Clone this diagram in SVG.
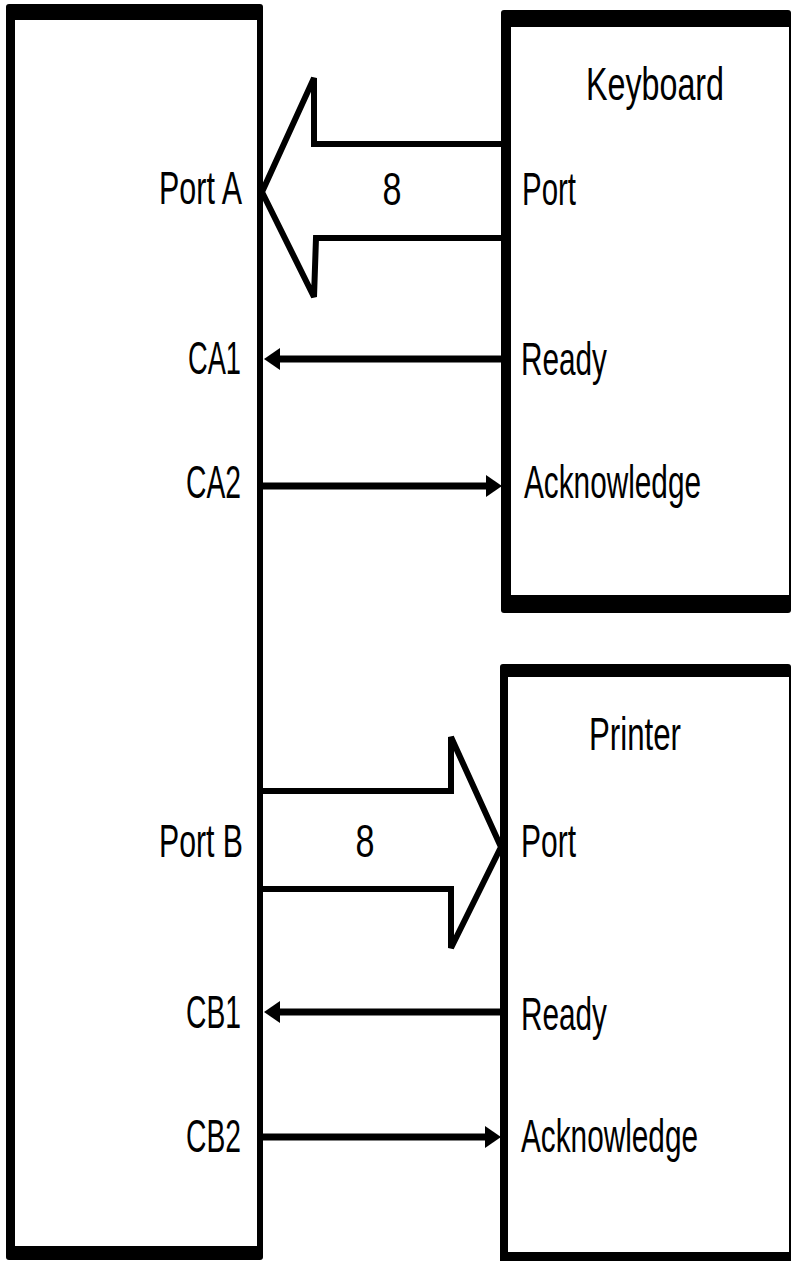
<svg xmlns="http://www.w3.org/2000/svg" width="793" height="1261" viewBox="0 0 793 1261">
<style>
.frame{fill:#000}
.inner{fill:#fff}
.lbl{font-family:"Liberation Sans",Arial,sans-serif;font-size:46px;fill:#000}
.bus{fill:none;stroke:#000;stroke-width:6;stroke-linejoin:miter}
.sig{fill:none;stroke:#000;stroke-width:7}
</style>
<defs>
<marker id="ah" markerUnits="userSpaceOnUse" markerWidth="18" markerHeight="24" refX="2" refY="11" orient="auto">
<path d="M0,0 L16,11 L0,22 z" fill="#000"/>
</marker>
</defs>
<rect width="793" height="1261" fill="#fff"/>

<g id="pia">
<rect class="frame" x="6" y="4" width="257" height="1256" rx="3"/>
<rect class="inner" x="15" y="20" width="242" height="1226"/>
<text class="lbl" x="159" y="204" textLength="83" lengthAdjust="spacingAndGlyphs">Port A</text>
<text class="lbl" x="188" y="374" textLength="53" lengthAdjust="spacingAndGlyphs">CA1</text>
<text class="lbl" x="186" y="498" textLength="55" lengthAdjust="spacingAndGlyphs">CA2</text>
<text class="lbl" x="159" y="857" textLength="84" lengthAdjust="spacingAndGlyphs">Port B</text>
<text class="lbl" x="186" y="1028" textLength="55" lengthAdjust="spacingAndGlyphs">CB1</text>
<text class="lbl" x="186" y="1152" textLength="55" lengthAdjust="spacingAndGlyphs">CB2</text>
</g>

<g id="keyboard">
<rect class="frame" x="501" y="10" width="290" height="603" rx="3"/>
<rect class="inner" x="511" y="27" width="278" height="568"/>
<text class="lbl" x="586" y="100" textLength="138" lengthAdjust="spacingAndGlyphs">Keyboard</text>
<text class="lbl" x="522" y="205" textLength="54" lengthAdjust="spacingAndGlyphs">Port</text>
<text class="lbl" x="521" y="375" textLength="86" lengthAdjust="spacingAndGlyphs">Ready</text>
<text class="lbl" x="524" y="498" textLength="177" lengthAdjust="spacingAndGlyphs">Acknowledge</text>
</g>

<g id="printer">
<rect class="frame" x="500" y="664" width="291" height="620" rx="3"/>
<rect class="inner" x="508" y="677" width="281" height="575"/>
<text class="lbl" x="589" y="750" textLength="92" lengthAdjust="spacingAndGlyphs">Printer</text>
<text class="lbl" x="521" y="857" textLength="55" lengthAdjust="spacingAndGlyphs">Port</text>
<text class="lbl" x="521" y="1030" textLength="86" lengthAdjust="spacingAndGlyphs">Ready</text>
<text class="lbl" x="521" y="1152" textLength="177" lengthAdjust="spacingAndGlyphs">Acknowledge</text>
</g>

<g id="connectors">
<polyline class="bus" points="501,144 314,144 314,78 262,192 314,297 316,238 501,238"/>
<text class="lbl" x="392" y="205" text-anchor="middle" textLength="19" lengthAdjust="spacingAndGlyphs">8</text>
<polyline class="bus" points="263,791 451,791 451,737 501,847 451,948 451,889 263,889"/>
<text class="lbl" x="365" y="857" text-anchor="middle" textLength="19" lengthAdjust="spacingAndGlyphs">8</text>
<line class="sig" x1="502" y1="359" x2="278" y2="359" marker-end="url(#ah)"/>
<line class="sig" x1="263" y1="486" x2="488" y2="486" marker-end="url(#ah)"/>
<line class="sig" x1="501" y1="1012" x2="278" y2="1012" marker-end="url(#ah)"/>
<line class="sig" x1="263" y1="1137" x2="487" y2="1137" marker-end="url(#ah)"/>
</g>
</svg>
